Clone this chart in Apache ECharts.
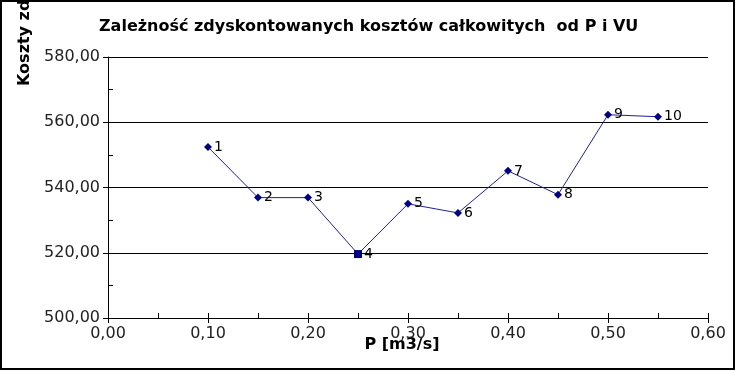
<!DOCTYPE html>
<html><head><meta charset="utf-8">
<script src="https://cdn.jsdelivr.net/npm/echarts@6/dist/echarts.min.js"></script>
<style>html,body{margin:0;padding:0;background:#fff}#c{width:737px;height:371px}</style>
</head><body><div id="c"></div>
<script>
const pValues = [0.10, 0.15, 0.20, 0.25, 0.30, 0.35, 0.40, 0.45, 0.50, 0.55];
const costValues = [552.4, 536.9, 536.9, 519.6, 535.0, 532.2, 545.1, 537.8, 562.3, 561.7];
const pointLabels = ['1','2','3','4','5','6','7','8','9','10'];
const highlighted = 3;
const fmt = v => v.toFixed(2).replace('.', ',');
const data = pValues.map((p, i) => {
  const d = {value: [p, costValues[i]], label: {formatter: pointLabels[i]}};
  if (i === highlighted) { d.symbol = 'rect'; d.symbolSize = 8; }
  return d;
});
const chart = echarts.init(document.getElementById('c'));
const font = 'DejaVu Sans';
chart.setOption({
  animation: false,
  textStyle: {fontFamily: font},
  title: {text: 'Zależność zdyskontowanych kosztów całkowitych  od P i VU', left: 94, top: 14,
    textStyle: {fontFamily: font, fontSize: 16, fontWeight: 'bold', color: '#000'}},
  grid: {left: 108, right: 29, top: 57, bottom: 53, containLabel: false},
  xAxis: [
    {type: 'value', min: 0, max: 0.6, interval: 0.1, position: 'bottom',
     axisLine: {lineStyle: {color: '#000', width: 1}},
     axisTick: {show: true, length: 5, lineStyle: {color: '#000'}},
     axisLabel: {formatter: fmt, fontSize: 16, color: '#222', fontFamily: font, margin: 8},
     splitLine: {show: false},
     name: 'P [m3/s]', nameLocation: 'middle', nameGap: 19, nameMoveOverlap: false,
     nameTextStyle: {fontFamily: font, fontSize: 16, fontWeight: 'bold', color: '#000', padding: [0, 12, 0, 0]}},
    {type: 'value', min: 0, max: 0.6, interval: 0.05, position: 'bottom',
     axisLine: {show: false},
     axisTick: {show: true, inside: true, length: 5, lineStyle: {color: '#000'}},
     axisLabel: {show: false}, splitLine: {show: false}}
  ],
  yAxis: [
    {type: 'value', min: 500, max: 580, interval: 20,
     axisLine: {show: true, lineStyle: {color: '#000', width: 1}},
     axisTick: {show: true, length: 5, lineStyle: {color: '#000'}},
     axisLabel: {formatter: fmt, fontSize: 16, color: '#222', fontFamily: font, margin: 8},
     splitLine: {show: true, lineStyle: {color: '#000', width: 1}}},
    {type: 'value', min: 500, max: 580, interval: 10, position: 'left',
     axisLine: {show: false},
     axisTick: {show: true, inside: true, length: 5, lineStyle: {color: '#000'}},
     axisLabel: {show: false}, splitLine: {show: false}}
  ],
  series: [{
    type: 'line', data: data, symbol: 'diamond', symbolSize: 8,
    lineStyle: {color: '#1f1f99', width: 1},
    itemStyle: {color: '#000080'},
    label: {show: true, position: 'right', distance: 2, fontSize: 14, color: '#000', fontFamily: font}
  }],
  graphic: [
    {type: 'rect', shape: {x: 1, y: 1, width: 733, height: 368}, style: {fill: null, stroke: '#000', lineWidth: 2}, silent: true},
    {type: 'text', x: 25, y: 86, rotation: Math.PI / 2,
     style: {text: 'Koszty zdyskontowane', font: 'bold 16px "DejaVu Sans"', fill: '#000', textAlign: 'left', textVerticalAlign: 'middle'}}
  ]
});
</script></body></html>
